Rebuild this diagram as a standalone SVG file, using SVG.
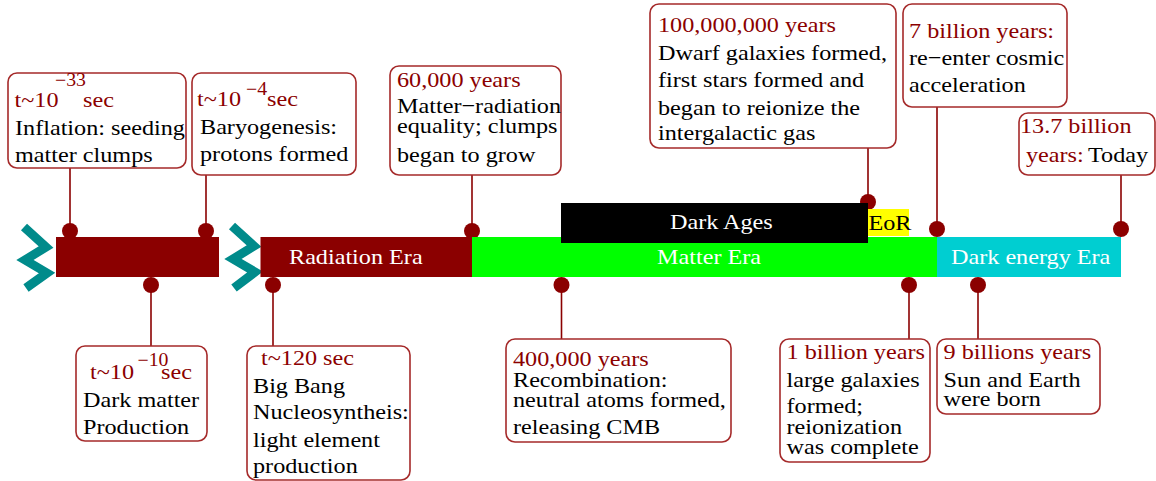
<svg xmlns="http://www.w3.org/2000/svg" width="1156" height="481" viewBox="0 0 1156 481">
<style>
text{font-family:"Liberation Serif","Times New Roman",serif;font-size:22px;fill:#000}
.r{fill:#8b0000}
.sup{font-size:18px;fill:#8b0000}
.w{fill:#fff}
.box{fill:#fff;stroke:#a52a2a;stroke-width:1.6}
.ln{stroke:#8b0000;stroke-width:1.6;fill:none}
.dot{fill:#8b0000}
.zz{fill:none;stroke:#008b8b;stroke-width:9;stroke-linejoin:miter;stroke-miterlimit:10}
</style>
<rect width="1156" height="481" fill="#fff"/>
<g id="connectors">
<line class="ln" x1="70" y1="168" x2="70" y2="231"/><circle class="dot" cx="70" cy="231" r="8"/>
<line class="ln" x1="206" y1="175" x2="206" y2="231"/><circle class="dot" cx="206" cy="231" r="8"/>
<line class="ln" x1="151" y1="285" x2="151" y2="346"/><circle class="dot" cx="151" cy="285" r="8"/>
<line class="ln" x1="273" y1="285" x2="273" y2="346"/><circle class="dot" cx="273" cy="285" r="8"/>
<line class="ln" x1="472" y1="175" x2="472" y2="231"/><circle class="dot" cx="472" cy="231" r="8"/>
<line class="ln" x1="868" y1="148" x2="868" y2="202"/><circle class="dot" cx="868" cy="202" r="8"/>
<line class="ln" x1="937" y1="107" x2="937" y2="229"/><circle class="dot" cx="937" cy="229" r="8"/>
<line class="ln" x1="1121" y1="175" x2="1121" y2="229"/><circle class="dot" cx="1121" cy="229" r="8"/>
<line class="ln" x1="561.5" y1="285" x2="561.5" y2="339"/><circle class="dot" cx="561.5" cy="285" r="8"/>
<line class="ln" x1="909" y1="285" x2="909" y2="339"/><circle class="dot" cx="909" cy="285" r="8"/>
<line class="ln" x1="978" y1="285" x2="978" y2="339"/><circle class="dot" cx="978" cy="285" r="8"/>
</g>
<g id="timeline">
<polyline class="zz" points="24,227 46,247 25,260 47,273 26,288"/>
<polyline class="zz" points="232,226 254,246 233,259 255,272 234,288"/>
<rect x="56" y="237" width="163" height="40" fill="#8b0000"/>
<rect x="260.5" y="237" width="211.5" height="40" fill="#8b0000"/>
<text class="w" transform="translate(289,264) scale(1.1,1)">Radiation Era</text>
<rect x="472" y="237" width="465" height="40" fill="#00ff00"/>
<text class="w" transform="translate(657,264) scale(1.1,1)">Matter Era</text>
<rect x="937" y="237" width="184" height="40" fill="#00ced1"/>
<text class="w" transform="translate(951,264) scale(1.1,1)">Dark energy Era</text>
<rect x="561" y="203" width="307" height="40" fill="#000"/>
<text class="w" transform="translate(670,229) scale(1.1,1)">Dark Ages</text>
<rect x="868" y="209" width="41" height="27" fill="#ffff00"/>
<text transform="translate(868.5,230) scale(1.1,1)">EoR</text>
</g>
<g id="inflation">
<rect class="box" x="8" y="73" width="178" height="95" rx="9"/>
<text class="r" transform="translate(14.5,107) scale(1.1,1)">t~10</text>
<text class="sup" transform="translate(55,86) scale(1.1,1)">−33</text>
<text class="r" transform="translate(83,107) scale(1.1,1)">sec</text>
<text transform="translate(15,135) scale(1.1,1)">Inflation: seeding</text>
<text transform="translate(15,162) scale(1.1,1)">matter clumps</text>
</g>
<g id="baryogenesis">
<rect class="box" x="192" y="73" width="164" height="102" rx="9"/>
<text class="r" transform="translate(197,106) scale(1.1,1)">t~10</text>
<text class="sup" transform="translate(246,95) scale(1.1,1)">−4</text>
<text class="r" transform="translate(267,106) scale(1.1,1)">sec</text>
<text transform="translate(200,134) scale(1.1,1)">Baryogenesis:</text>
<text transform="translate(200,160.5) scale(1.1,1)">protons formed</text>
</g>
<g id="darkmatter">
<rect class="box" x="76" y="346" width="131" height="95" rx="9"/>
<text class="r" transform="translate(90,379) scale(1.1,1)">t~10</text>
<text class="sup" transform="translate(137.5,366) scale(1.1,1)">−10</text>
<text class="r" transform="translate(161,379) scale(1.1,1)">sec</text>
<text transform="translate(83,406.5) scale(1.1,1)">Dark matter</text>
<text transform="translate(83,434) scale(1.1,1)">Production</text>
</g>
<g id="bbn">
<rect class="box" x="247" y="346" width="163" height="134" rx="9"/>
<text class="r" transform="translate(261,365) scale(1.1,1)">t~120 sec</text>
<text transform="translate(253,393) scale(1.1,1)">Big Bang</text>
<text transform="translate(253,419) scale(1.1,1)">Nucleosyntheis:</text>
<text transform="translate(253,446.5) scale(1.1,1)">light element</text>
<text transform="translate(253,473) scale(1.1,1)">production</text>
</g>
<g id="equality">
<rect class="box" x="390" y="66" width="171" height="109" rx="9"/>
<text class="r" transform="translate(397,87) scale(1.1,1)">60,000 years</text>
<text transform="translate(397,113) scale(1.1,1)">Matter−radiation</text>
<text transform="translate(397,133) scale(1.1,1)">equality; clumps</text>
<text transform="translate(397,161.5) scale(1.1,1)">began to grow</text>
</g>
<g id="dwarf">
<rect class="box" x="650" y="4" width="246" height="144" rx="9"/>
<text class="r" transform="translate(658,31.5) scale(1.1,1)">100,000,000 years</text>
<text transform="translate(658,59.5) scale(1.1,1)">Dwarf galaxies formed,</text>
<text transform="translate(658,87) scale(1.1,1)">first stars formed and</text>
<text transform="translate(658,114.5) scale(1.1,1)">began to reionize the</text>
<text transform="translate(658,140) scale(1.1,1)">intergalactic gas</text>
</g>
<g id="acceleration">
<rect class="box" x="903" y="4" width="164" height="103" rx="9"/>
<text class="r" transform="translate(909,38) scale(1.1,1)">7 billion years:</text>
<text transform="translate(909,65) scale(1.1,1)">re−enter cosmic</text>
<text transform="translate(909,91.5) scale(1.1,1)">acceleration</text>
</g>
<g id="today">
<rect class="box" x="1019" y="113" width="136" height="62" rx="9"/>
<text class="r" transform="translate(1020,133) scale(1.1,1)">13.7 billion</text>
<text class="r" transform="translate(1026,161.5) scale(1.1,1)">years:</text>
<text transform="translate(1088,161.5) scale(1.1,1)">Today</text>
</g>
<g id="recombination">
<rect class="box" x="506" y="339" width="225" height="103" rx="9"/>
<text class="r" transform="translate(513,366) scale(1.1,1)">400,000 years</text>
<text transform="translate(513,386.5) scale(1.1,1)">Recombination:</text>
<text transform="translate(513,406.5) scale(1.1,1)">neutral atoms formed,</text>
<text transform="translate(513,434) scale(1.1,1)">releasing CMB</text>
</g>
<g id="reionization">
<rect class="box" x="780" y="339" width="150" height="123" rx="9"/>
<text class="r" transform="translate(786.5,359) scale(1.1,1)">1 billion years</text>
<text transform="translate(786.5,386.5) scale(1.1,1)">large galaxies</text>
<text transform="translate(786.5,413) scale(1.1,1)">formed;</text>
<text transform="translate(786.5,434) scale(1.1,1)">reionization</text>
<text transform="translate(786.5,454) scale(1.1,1)">was complete</text>
</g>
<g id="sunearth">
<rect class="box" x="937" y="339" width="163" height="75" rx="9"/>
<text class="r" transform="translate(943.5,359) scale(1.1,1)">9 billions years</text>
<text transform="translate(943.5,386.5) scale(1.1,1)">Sun and Earth</text>
<text transform="translate(943.5,405.5) scale(1.1,1)">were born</text>
</g>
</svg>
